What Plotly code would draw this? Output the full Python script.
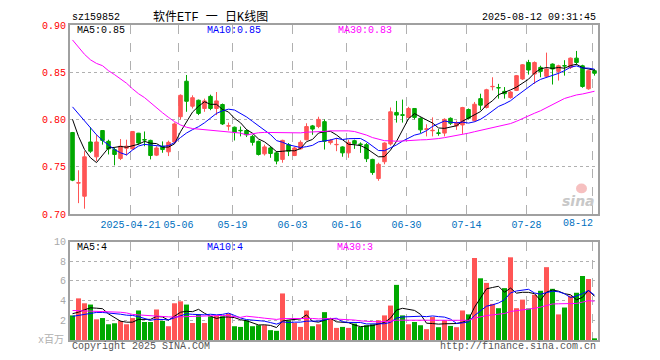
import numpy as np
import pandas as pd
import plotly.graph_objects as go

# ---------------- data ----------------
holidays = ["2025-05-01", "2025-05-02", "2025-05-05", "2025-06-02"]
dates = [d for d in pd.bdate_range("2025-04-07", "2025-08-12") if d.strftime("%Y-%m-%d") not in holidays]

opn = [0.7864, 0.7330, 0.7191, 0.7764, 0.7607, 0.7885, 0.7771, 0.7684, 0.7590, 0.7698,
       0.7691, 0.7857, 0.7790, 0.7781, 0.7625, 0.7719, 0.7660, 0.7764, 0.8031, 0.8406,
       0.8142, 0.8205, 0.8118, 0.8246, 0.8118, 0.8160, 0.7932, 0.7920, 0.7887, 0.7885,
       0.7823, 0.7771, 0.7639, 0.7701, 0.7649, 0.7580, 0.7736, 0.7621, 0.7691, 0.7788,
       0.7934, 0.7927, 0.7979, 0.7757, 0.7735, 0.7712, 0.7649, 0.7778, 0.7743, 0.7736,
       0.7580, 0.7378, 0.7555, 0.7743, 0.8076, 0.8051, 0.8024, 0.8118, 0.8014, 0.7898,
       0.7883, 0.7860, 0.7858, 0.8014, 0.7934, 0.7944, 0.8107, 0.7989, 0.8222, 0.8128,
       0.8348, 0.8339, 0.8299, 0.8233, 0.8309, 0.8430, 0.8604, 0.8482, 0.8552, 0.8458,
       0.8587, 0.8510, 0.8571, 0.8552, 0.8650, 0.8569, 0.8326, 0.8517]
high = [0.7870, 0.7465, 0.7667, 0.7920, 0.7840, 0.7885, 0.7788, 0.7708, 0.7795, 0.7788,
        0.7875, 0.7860, 0.7875, 0.7788, 0.7719, 0.7770, 0.7778, 0.7970, 0.8267, 0.8472,
        0.8257, 0.8212, 0.8222, 0.8264, 0.8292, 0.8170, 0.7969, 0.7927, 0.7927, 0.7899,
        0.7840, 0.7778, 0.7736, 0.7719, 0.7667, 0.7788, 0.7753, 0.7712, 0.7781, 0.7962,
        0.7944, 0.8031, 0.8003, 0.7795, 0.7806, 0.7719, 0.7788, 0.7788, 0.7760, 0.7753,
        0.7587, 0.7545, 0.7760, 0.8128, 0.8198, 0.8212, 0.8135, 0.8118, 0.8024, 0.7951,
        0.8024, 0.7900, 0.8014, 0.8024, 0.7990, 0.8135, 0.8118, 0.8187, 0.8274, 0.8326,
        0.8448, 0.8378, 0.8344, 0.8302, 0.8472, 0.8587, 0.8632, 0.8615, 0.8570, 0.8708,
        0.8594, 0.8580, 0.8628, 0.8656, 0.8726, 0.8580, 0.8524, 0.8535]
low = [0.7350, 0.7118, 0.7059, 0.7649, 0.7562, 0.7736, 0.7632, 0.7517, 0.7573, 0.7622,
       0.7684, 0.7736, 0.7719, 0.7580, 0.7615, 0.7650, 0.7615, 0.7750, 0.8003, 0.8083,
       0.8118, 0.8048, 0.8083, 0.8100, 0.8048, 0.7944, 0.7885, 0.7780, 0.7823, 0.7816,
       0.7726, 0.7621, 0.7621, 0.7597, 0.7528, 0.7545, 0.7615, 0.7615, 0.7684, 0.7781,
       0.7840, 0.7910, 0.7684, 0.7736, 0.7667, 0.7608, 0.7597, 0.7691, 0.7649, 0.7552,
       0.7417, 0.7354, 0.7528, 0.7726, 0.7969, 0.7969, 0.8014, 0.8003, 0.7858, 0.7823,
       0.7823, 0.7830, 0.7823, 0.7944, 0.7892, 0.7850, 0.8003, 0.7979, 0.8100, 0.8118,
       0.8309, 0.8222, 0.8222, 0.8222, 0.8302, 0.8420, 0.8476, 0.8378, 0.8448, 0.8448,
       0.8371, 0.8413, 0.8465, 0.8535, 0.8580, 0.8337, 0.8316, 0.8465]
close = [0.7361, 0.7333, 0.7607, 0.7667, 0.7764, 0.7781, 0.7691, 0.7632, 0.7719, 0.7720,
         0.7875, 0.7753, 0.7786, 0.7621, 0.7701, 0.7684, 0.7760, 0.7955, 0.8257, 0.8194,
         0.8232, 0.8066, 0.8198, 0.8118, 0.8198, 0.7955, 0.7935, 0.7864, 0.7884, 0.7840,
         0.7760, 0.7632, 0.7712, 0.7642, 0.7562, 0.7781, 0.7667, 0.7701, 0.7760, 0.7927,
         0.7900, 0.8003, 0.7771, 0.7781, 0.7738, 0.7649, 0.7760, 0.7746, 0.7736, 0.7587,
         0.7441, 0.7528, 0.7753, 0.8083, 0.8048, 0.8047, 0.8118, 0.8024, 0.7892, 0.7902,
         0.7887, 0.7856, 0.8003, 0.7962, 0.7969, 0.8128, 0.8014, 0.8163, 0.8153, 0.8316,
         0.8351, 0.8336, 0.8274, 0.8292, 0.8465, 0.8580, 0.8524, 0.8604, 0.8510, 0.8535,
         0.8535, 0.8569, 0.8568, 0.8650, 0.8604, 0.8350, 0.8517, 0.8490]
volume = [2.50, 4.23, 3.73, 3.60, 2.10, 2.23, 1.60, 1.70, 1.93, 1.60,
          2.23, 3.00, 1.83, 1.83, 3.10, 1.93, 1.40, 3.73, 3.93, 3.60,
          1.73, 2.60, 1.73, 2.40, 2.50, 2.40, 2.67, 1.40, 1.33, 2.00,
          1.40, 1.50, 1.50, 1.00, 0.93, 4.73, 2.00, 1.73, 1.33, 3.00,
          1.40, 1.60, 2.83, 2.17, 1.23, 1.33, 1.23, 1.67, 1.33, 1.50,
          1.60, 2.00, 2.50, 3.50, 5.60, 2.50, 1.60, 1.83, 1.50, 1.10,
          2.33, 1.30, 2.00, 1.43, 1.30, 3.00, 2.60, 8.33, 6.27, 5.80,
          3.67, 3.23, 5.27, 8.40, 3.23, 4.10, 3.20, 4.60, 5.00, 7.40,
          5.20, 2.60, 3.30, 4.50, 4.80, 6.50, 6.20, 0.17]

# moving-average values before enough history is visible
ma5_head = [0.8003, 0.7823, 0.7684, 0.7597]
ma10_head = [0.8135, 0.8059, 0.7990, 0.7910, 0.7840, 0.7780, 0.7729, 0.7684, 0.7650]
ma30_head = [0.8842, 0.8770, 0.8690, 0.8632, 0.8594, 0.8570, 0.8517, 0.8476, 0.8430, 0.8385,
             0.8326, 0.8274, 0.8233, 0.8177, 0.8125, 0.8073, 0.8024, 0.7979, 0.7944, 0.7920,
             0.7906, 0.7900, 0.7890, 0.7885, 0.7875, 0.7870, 0.7865, 0.7858, 0.7858]
vma5_head = [2.67, 2.83, 3.07, 3.27]
vma10_head = [2.40, 2.50, 2.60, 2.75, 2.80, 2.80, 2.75, 2.70, 2.62]
vma30_head = [3.00, 2.98, 2.97, 2.95, 2.93, 2.90, 2.87, 2.85, 2.82, 2.75,
              2.60, 2.55, 2.50, 2.45, 2.40, 2.38, 2.35, 2.33, 2.35, 2.40,
              2.45, 2.45, 2.45, 2.48, 2.50, 2.50, 2.45, 2.35, 2.30]

tick_dates = ["2025-04-21", "2025-05-06", "2025-05-19", "2025-06-03", "2025-06-16",
              "2025-06-30", "2025-07-14", "2025-07-28", "2025-08-12"]
price_ticks = [0.70, 0.75, 0.80, 0.85, 0.90]
vol_ticks = [2, 4, 6, 8, 10]


def moving(vals, n, head):
    v = np.asarray(vals, dtype=float)
    out = list(head)
    for i in range(len(head), len(v)):
        out.append(v[i - n + 1:i + 1].mean())
    return out


ma5 = moving(close, 5, ma5_head)
ma10 = moving(close, 10, ma10_head)
ma30 = moving(close, 30, ma30_head)
vma5 = moving(volume, 5, vma5_head)
vma10 = moving(volume, 10, vma10_head)
vma30 = moving(volume, 30, vma30_head)

x = list(range(len(dates)))
date_str = [d.strftime("%Y-%m-%d") for d in dates]
tick_idx = [date_str.index(t) for t in tick_dates]
tick_pos = [i - 1 / 3 for i in tick_idx]
tick_text = [tick_dates[0]] + [t[5:] for t in tick_dates[1:]]
# the last label is pulled left inside the frame (drawn as an annotation below)
axis_text = tick_text[:-1] + [""]

RED = "#ff5555"
GREEN = "#00a800"
GRID = "#b0b0b0"
FONT = "Liberation Mono, Noto Sans CJK SC"

vol_colors = [RED if c > o else GREEN for o, c in zip(opn, close)]

fig = go.Figure()
fig.add_trace(go.Candlestick(
    x=x, open=opn, high=high, low=low, close=close,
    increasing=dict(line=dict(color=RED, width=1), fillcolor=RED),
    decreasing=dict(line=dict(color=GREEN, width=1), fillcolor=GREEN),
    whiskerwidth=0, xaxis="x", yaxis="y", hoverinfo="skip"))
for vals, col in [(ma5, "#000000"), (ma10, "#0000ff"), (ma30, "#ff00ff")]:
    fig.add_trace(go.Scatter(x=x, y=vals, mode="lines", line=dict(color=col, width=1),
                             xaxis="x", yaxis="y", hoverinfo="skip"))
fig.add_trace(go.Bar(x=x, y=volume, marker=dict(color=vol_colors, line=dict(width=0)),
                     width=0.83, xaxis="x2", yaxis="y2", hoverinfo="skip"))
for vals, col in [(vma5, "#000000"), (vma10, "#0000ff"), (vma30, "#ff00ff")]:
    fig.add_trace(go.Scatter(x=x, y=vals, mode="lines", line=dict(color=col, width=1),
                             xaxis="x2", yaxis="y2", hoverinfo="skip"))

xr = [-2.5 / 6, 525.5 / 6]
axis_common = dict(showline=True, mirror=True, linecolor="#a0a0a0", linewidth=2,
                   zeroline=False, ticks="")
main_bottom = (340 - 212.3) / 320
XCOL = "#0070c0"

# the page body adds an 8px offset, so margins are shifted to keep the plot area
# at x 70..598, y 20..340 of the window
fig.update_layout(
    width=660, height=360,
    margin=dict(l=62, r=70, t=12, b=28),
    paper_bgcolor="white", plot_bgcolor="white",
    showlegend=False, hovermode=False, boxgap=0.15,
    font=dict(family=FONT, size=10),
    xaxis=dict(domain=[0, 1], range=xr, anchor="y", tickvals=tick_pos, ticktext=axis_text,
               tickfont=dict(color=XCOL, size=10), showgrid=True, gridcolor=GRID,
               griddash="dash", gridwidth=1, rangeslider=dict(visible=False), **axis_common),
    yaxis=dict(domain=[main_bottom, 1], range=[0.70, 0.90], tickvals=price_ticks,
               tickformat=".2f", tickfont=dict(color="#ff0000", size=10), showgrid=True,
               gridcolor=GRID, griddash="dot", gridwidth=1, **axis_common),
    xaxis2=dict(domain=[0, 1], range=xr, anchor="y2", tickvals=tick_pos,
                showticklabels=False, showgrid=True, gridcolor=GRID, griddash="dash",
                gridwidth=1, **axis_common),
    yaxis2=dict(domain=[0, 100 / 320], range=[0, 10], tickvals=vol_ticks,
                tickfont=dict(color="#a8a8a8", size=10), showgrid=True, gridcolor=GRID,
                griddash="dot", gridwidth=1, **axis_common),
)


def py(ypx):
    return (340 - ypx) / 320


def px(xpx):
    return (xpx - 70) / 528


ann = [
    ("sz159852", 70, 12, "left", "#000000", 10),
    ("软件ETF 一 日K线图", 210, 12, "center", "#000000", 12),
    ("2025-08-12 09:31:45", 598, 12, "right", "#000000", 10),
    ("MA5:%.2f" % ma5[-1], 75, 26, "left", "#000000", 10),
    ("MA10:%.2f" % ma10[-1], 205, 26, "left", "#0000ff", 10),
    ("MA30:%.2f" % ma30[-1], 336, 26, "left", "#ff00ff", 10),
    ("MA5:%d" % int(vma5[-1]), 75, 246, "left", "#000000", 10),
    ("MA10:%d" % int(vma10[-1]), 205, 246, "left", "#0000ff", 10),
    ("MA30:%d" % int(vma30[-1]), 335, 246, "left", "#ff00ff", 10),
    ("x百万", 66, 340, "right", "#b0b0b0", 10),
    ("Copyright 2025 SINA.COM", 70, 347, "left", "#555555", 10),
    ("http://finance.sina.com.cn", 598, 347, "right", "#555555", 10),
    (tick_text[-1], 595, 222, "right", XCOL, 10),
]
for text, xp, yp, anchor, col, size in ann:
    fig.add_annotation(text=text, x=px(xp), y=py(yp), xref="paper", yref="paper",
                       xanchor=anchor, yanchor="middle", showarrow=False,
                       font=dict(color=col, size=size, family=FONT))
fig.add_annotation(text="<b><i>sina</i></b>", x=px(597), y=py(199), xref="paper", yref="paper",
                   xanchor="right", yanchor="middle", showarrow=False,
                   font=dict(color="#c8c8c8", size=14, family="DejaVu Sans"))
fig.add_shape(type="circle", xref="paper", yref="paper",
              x0=px(576), x1=px(587), y0=py(191), y1=py(181),
              fillcolor="#f6c0c0", line=dict(width=0), layer="above")

fig.write_html("out.html")
